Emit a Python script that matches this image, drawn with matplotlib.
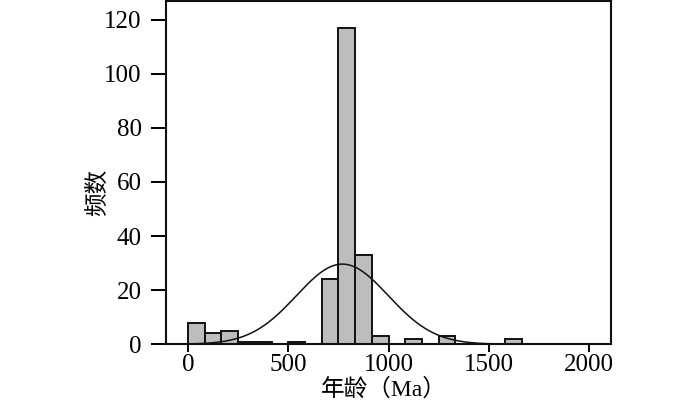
"""Age histogram with fitted normal curve."""
import matplotlib
matplotlib.use("Agg")
import matplotlib.pyplot as plt
import numpy as np

# histogram: bins of 2000/24 Ma starting at 0
bin_width = 2000 / 24
counts = [8, 4, 5, 1, 1, 0, 1, 0, 24, 117, 33, 3, 0, 2, 0, 3, 0, 0, 0, 2]
x_ticks = [0, 500, 1000, 1500, 2000]
y_ticks = [0, 20, 40, 60, 80, 100, 120]

# fitted normal curve parameters (estimated from the drawn curve)
fit_mean = 770.0
fit_sd = 229.0

plt.rcParams["font.family"] = ["Liberation Serif", "Noto Sans CJK SC"]

fig = plt.figure(figsize=(7.0, 4.04), dpi=100)
ax = fig.add_axes([0.237, 0.148, 0.636, 0.849])

edges = np.arange(len(counts)) * bin_width
ax.bar(edges, counts, width=bin_width, align="edge",
       color="#bdbdbd", edgecolor="#111111", linewidth=1.4, zorder=2)

n_total = sum(counts)
xs = np.linspace(-110, 2110, 600)
ys = n_total * bin_width / (fit_sd * np.sqrt(2 * np.pi)) * np.exp(-0.5 * ((xs - fit_mean) / fit_sd) ** 2)
ax.plot(xs, ys, color="#111111", linewidth=1.1, zorder=3)

ax.set_xlim(-110, 2110)
ax.set_ylim(0, 126.8)
ax.set_xticks(x_ticks)
ax.set_yticks(y_ticks)
ax.tick_params(axis="x", direction="out", length=5.8, width=1.4, labelsize=18, pad=1)
ax.tick_params(axis="y", direction="out", length=11, width=1.4, labelsize=18, pad=6.5)
for s in ax.spines.values():
    s.set_linewidth(1.5)
    s.set_color("#111111")

ax.set_xlabel("年龄（Ma）", fontsize=17)
ax.xaxis.set_label_coords(0.49, -0.098)
ax.set_ylabel("频数", fontsize=17)
ax.yaxis.set_label_coords(-0.127, 0.444)

fig.savefig("out.png", dpi=100)
